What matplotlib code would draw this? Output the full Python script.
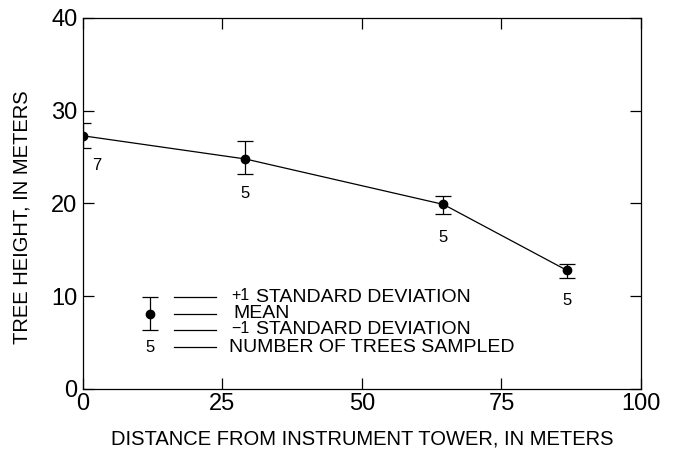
import matplotlib
matplotlib.use('Agg')
import matplotlib.pyplot as plt

plt.rcParams['font.family'] = ['Liberation Sans', 'DejaVu Sans']

# tree height vs distance from the tower
distance = [0, 29.1, 64.6, 86.7]
height_mean = [27.3, 24.8, 19.9, 12.8]
height_sd_up = [1.4, 1.9, 0.9, 0.7]
height_sd_down = [1.3, 1.6, 1.0, 0.8]
n_trees = [7, 5, 5, 5]

fig = plt.figure(figsize=(6.73, 4.5), dpi=100)
ax = fig.add_axes([0.1233, 0.1356, 0.8291, 0.8244])

ax.plot(distance, height_mean, color='black', lw=0.9)
ax.errorbar(distance, height_mean, yerr=[height_sd_down, height_sd_up], fmt='o',
            color='black', ms=6, elinewidth=0.9, capsize=6, capthick=0.9)

# sample counts under each point
offsets = [(2.5, -3.2), (0, -3.7), (0, -3.6), (0, -3.3)]
for x, y, n, (dx, dy) in zip(distance, height_mean, n_trees, offsets):
    ax.text(x + dx, y + dy, str(n), ha='center', va='center', fontsize=12)

# explanation key
kx, ky = 12.0, 8.1
ax.errorbar([kx], [ky], yerr=[[1.7], [1.8]], fmt='o', color='black', ms=6,
            elinewidth=0.9, capsize=6, capthick=0.9)
ax.text(kx, 4.5, '5', ha='center', va='center', fontsize=12)
key_rows = [(9.9, '+1', 'STANDARD DEVIATION'), (8.1, '', 'MEAN'),
            (6.4, '\u22121', 'STANDARD DEVIATION'), (4.5, '', 'NUMBER OF TREES SAMPLED')]
for yy, sign, label in key_rows:
    ax.plot([16.3, 23.9], [yy, yy], color='black', lw=0.9)
    if sign:
        ax.text(26.6, yy + 0.15, sign, ha='left', va='center', fontsize=11.5)
        ax.text(31.0, yy, label, ha='left', va='center', fontsize=14)
    else:
        x0 = 27.0 if label == 'MEAN' else 26.2
        ax.text(x0, yy, label, ha='left', va='center', fontsize=14)

ax.set_xlim(0, 100)
ax.set_ylim(0, 40)
ax.set_xticks([0, 25, 50, 75, 100])
ax.set_yticks([0, 10, 20, 30, 40])
ax.tick_params(direction='in', length=8, width=0.9, labelsize=17,
               right=True, top=True)
ax.tick_params(axis='x', pad=3)
ax.tick_params(axis='y', pad=4)
for s in ax.spines.values():
    s.set_linewidth(0.9)

ax.set_xlabel('DISTANCE FROM INSTRUMENT TOWER, IN METERS', fontsize=14.5)
ax.set_ylabel('TREE HEIGHT, IN METERS', fontsize=14.5)
ax.xaxis.set_label_coords(0.5, -0.108)
ax.yaxis.set_label_coords(-0.093, 0.464)

fig.savefig('out.png', dpi=100)
